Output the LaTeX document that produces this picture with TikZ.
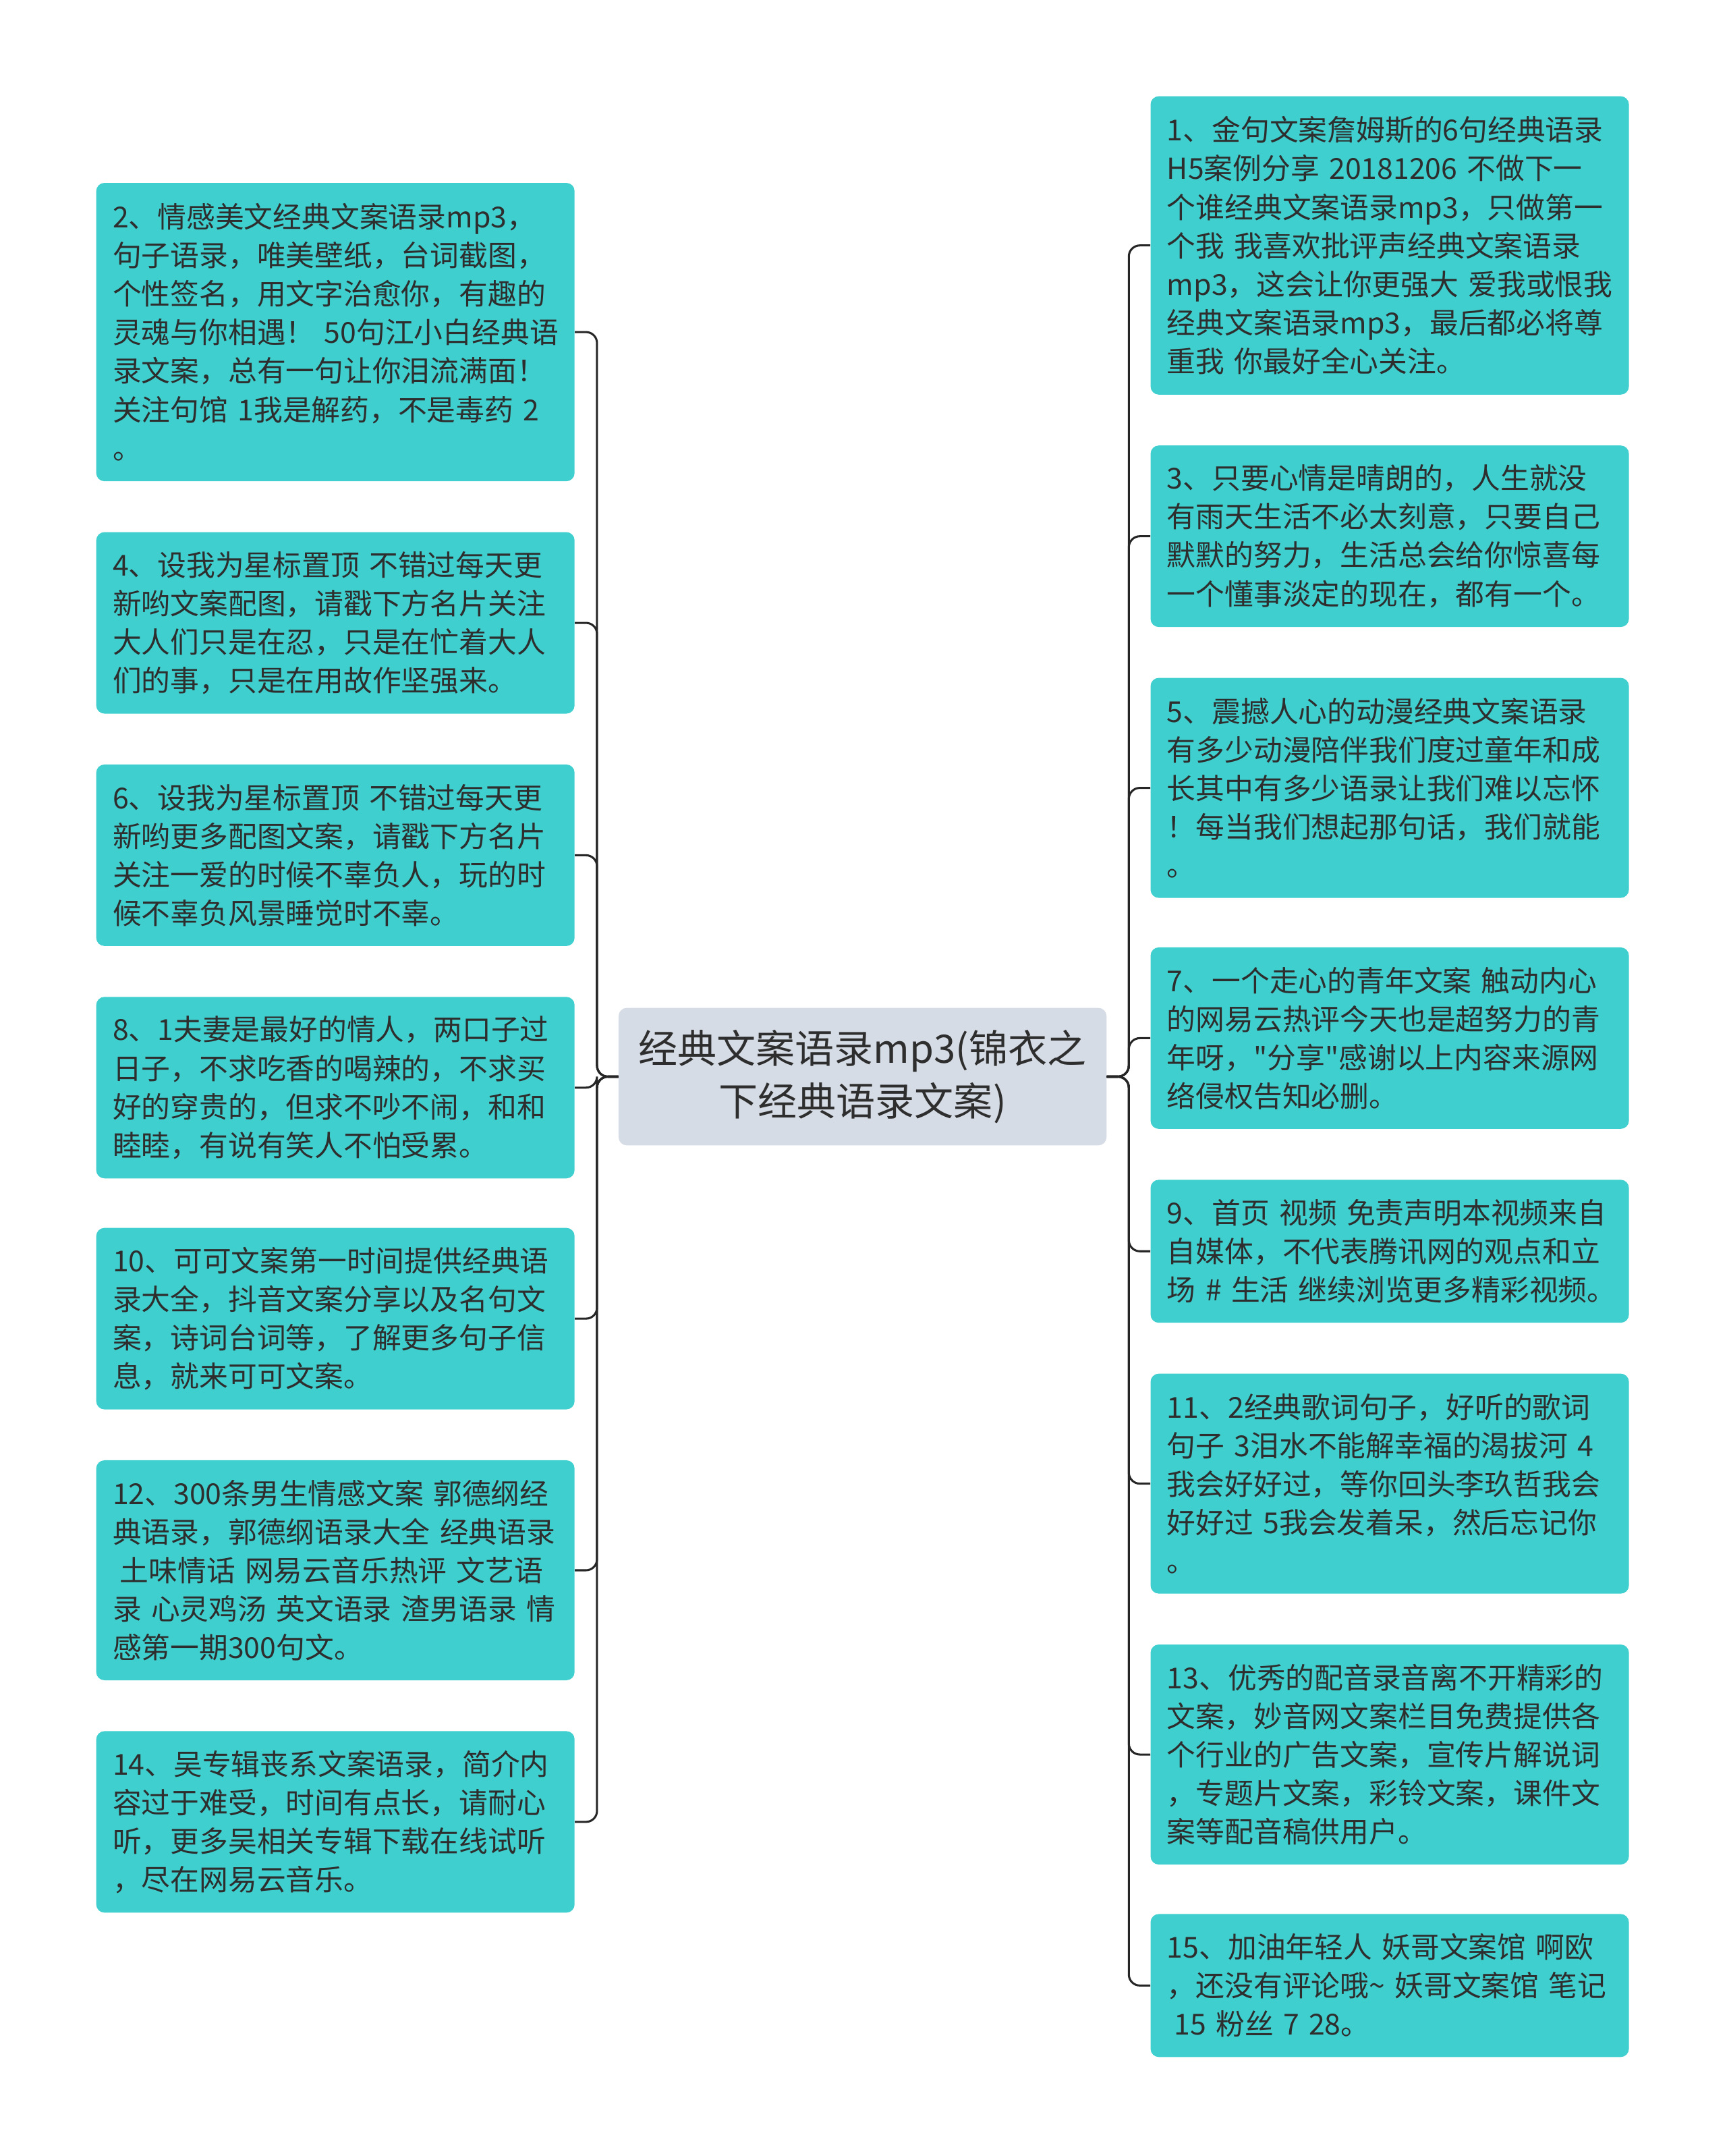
\documentclass[tikz,border=0pt]{standalone}
\usepackage{fontspec}
\setmainfont{Noto Sans CJK SC}[Ligatures=TeXOff]
\usepackage{tikz}
\usetikzlibrary{positioning}
\definecolor{rootfill}{HTML}{D6DCE5}
\definecolor{leaffill}{HTML}{40CFCF}
\definecolor{inktext}{HTML}{2E2E2E}
\definecolor{linkcolor}{HTML}{262626}

\begin{document}
\begin{tikzpicture}[x=1pt, y=-1pt,
        root/.style={
            rectangle, rounded corners=6pt, fill=rootfill, text=inktext,
            font=\fontsize{28.5}{38}\selectfont, minimum width=355pt,
            minimum height=100pt, align=center, inner sep=0pt
        },
        leaf/.style={
            rectangle, rounded corners=6pt, fill=leaffill, text=inktext,
            font=\fontsize{21}{28}\selectfont, text width=324pt,
            inner xsep=12pt, inner ysep=0pt, minimum height=#1, align=left
        },
        link/.style={line width=1.5pt, color=linkcolor, rounded corners=8pt},
    ]
    \useasboundingbox (0,0) rectangle (1256,1568);

    % Root
    \node[root] (root) at (627.5,783) {经典文案语录mp3(锦衣之\\下经典语录文案)};

    % ---- Left leaves ----
    \node[leaf=217] (l2) at (244,241.5) {2、情感美文经典文案语录mp3，\\句子语录，唯美壁纸，台词截图，\\个性签名，用文字治愈你，有趣的\\灵魂与你相遇！~50句江小白经典语\\录文案，总有一句让你泪流满面！\\关注句馆~1我是解药，不是毒药~2\\。};
    \node[leaf=132] (l4) at (244,453) {4、设我为星标置顶~不错过每天更\\新哟文案配图，请戳下方名片关注\\大人们只是在忍，只是在忙着大人\\们的事，只是在用故作坚强来。};
    \node[leaf=132] (l6) at (244,622) {6、设我为星标置顶~不错过每天更\\新哟更多配图文案，请戳下方名片\\关注一爱的时候不辜负人，玩的时\\候不辜负风景睡觉时不辜。};
    \node[leaf=132] (l8) at (244,791) {8、1夫妻是最好的情人，两口子过\\日子，不求吃香的喝辣的，不求买\\好的穿贵的，但求不吵不闹，和和\\睦睦，有说有笑人不怕受累。};
    \node[leaf=132] (l10) at (244,959) {10、可可文案第一时间提供经典语\\录大全，抖音文案分享以及名句文\\案，诗词台词等，了解更多句子信\\息，就来可可文案。};
    \node[leaf=160] (l12) at (244,1142) {12、300条男生情感文案~郭德纲经\\典语录，郭德纲语录大全~经典语录\\\hspace*{0.25em}土味情话~网易云音乐热评~文艺语\\录~心灵鸡汤~英文语录~渣男语录~情\\感第一期300句文。};
    \node[leaf=132] (l14) at (244,1325) {14、吴专辑丧系文案语录，简介内\\容过于难受，时间有点长，请耐心\\听，更多吴相关专辑下载在线试听\\，尽在网易云音乐。};

    % ---- Right leaves ----
    \node[leaf=217] (r1) at (1011,178.5) {1、金句文案詹姆斯的6句经典语录\\H5案例分享~20181206~不做下一\\个谁经典文案语录mp3，只做第一\\个我~我喜欢批评声经典文案语录\\mp3，这会让你更强大~爱我或恨我\\经典文案语录mp3，最后都必将尊\\重我~你最好全心关注。};
    \node[leaf=132] (r3) at (1011,390) {3、只要心情是晴朗的，人生就没\\有雨天生活不必太刻意，只要自己\\默默的努力，生活总会给你惊喜每\\一个懂事淡定的现在，都有一个。};
    \node[leaf=160] (r5) at (1011,573) {5、震撼人心的动漫经典文案语录\\有多少动漫陪伴我们度过童年和成\\长其中有多少语录让我们难以忘怀\\！每当我们想起那句话，我们就能\\。};
    \node[leaf=132] (r7) at (1011,755) {7、一个走心的青年文案~触动内心\\的网易云热评今天也是超努力的青\\年呀，"分享"感谢以上内容来源网\\络侵权告知必删。};
    \node[leaf=104] (r9) at (1011,910) {9、首页~视频~免责声明本视频来自\\自媒体，不代表腾讯网的观点和立\\场~\#~生活~继续浏览更多精彩视频。};
    \node[leaf=160] (r11) at (1011,1079) {11、2经典歌词句子，好听的歌词\\句子~3泪水不能解幸福的渴拔河~4\\我会好好过，等你回头李玖哲我会\\好好过~5我会发着呆，然后忘记你\\。};
    \node[leaf=160] (r13) at (1011,1276) {13、优秀的配音录音离不开精彩的\\文案，妙音网文案栏目免费提供各\\个行业的广告文案，宣传片解说词\\，专题片文案，彩铃文案，课件文\\案等配音稿供用户。};
    \node[leaf=104] (r15) at (1011,1444) {15、加油年轻人~妖哥文案馆~啊欧\\，还没有评论哦\textasciitilde~妖哥文案馆~笔记\\\hspace*{0.25em}15~粉丝~7~28。};

    % ---- Edges: root to left leaves ----
    \draw[link] (root.west) -- ++(-15.5,0) |- (l2.east);
    \draw[link] (root.west) -- ++(-15.5,0) |- (l4.east);
    \draw[link] (root.west) -- ++(-15.5,0) |- (l6.east);
    \draw[link] (root.west) -- ++(-15.5,0) |- (l8.east);
    \draw[link] (root.west) -- ++(-15.5,0) |- (l10.east);
    \draw[link] (root.west) -- ++(-15.5,0) |- (l12.east);
    \draw[link] (root.west) -- ++(-15.5,0) |- (l14.east);

    % ---- Edges: root to right leaves ----
    \draw[link] (root.east) -- ++(16,0) |- (r1.west);
    \draw[link] (root.east) -- ++(16,0) |- (r3.west);
    \draw[link] (root.east) -- ++(16,0) |- (r5.west);
    \draw[link] (root.east) -- ++(16,0) |- (r7.west);
    \draw[link] (root.east) -- ++(16,0) |- (r9.west);
    \draw[link] (root.east) -- ++(16,0) |- (r11.west);
    \draw[link] (root.east) -- ++(16,0) |- (r13.west);
    \draw[link] (root.east) -- ++(16,0) |- (r15.west);

\end{tikzpicture}
\end{document}
